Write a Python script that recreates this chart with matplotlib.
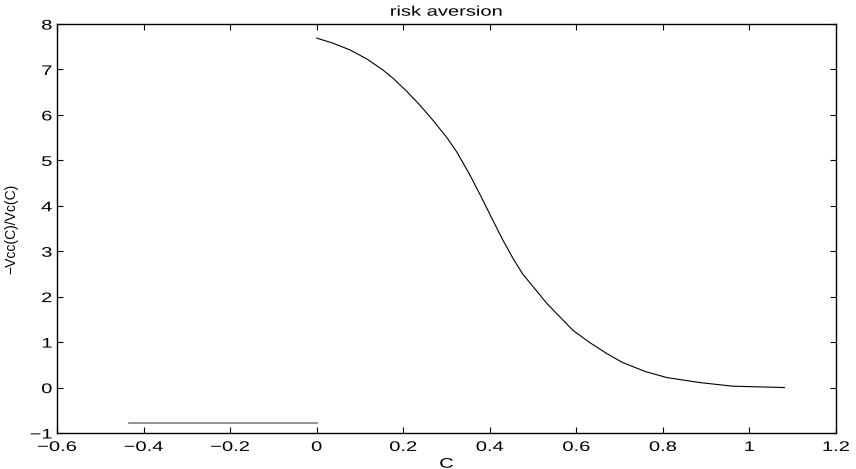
import numpy as np
import matplotlib
matplotlib.use('Agg')
import matplotlib.pyplot as plt
from matplotlib.patheffects import AbstractPathEffect
from matplotlib.transforms import Affine2D

plt.rcParams['font.family'] = ['Liberation Sans', 'DejaVu Sans']

# curve
c_vals = [0.0, 0.037, 0.077, 0.116, 0.153, 0.176, 0.208, 0.238, 0.268,
          0.301, 0.324, 0.354, 0.380, 0.405, 0.430, 0.455, 0.476, 0.532,
          0.592, 0.631, 0.670, 0.707, 0.760, 0.809, 0.885, 0.961, 1.081]
ra_vals = [7.69, 7.58, 7.43, 7.23, 6.99, 6.81, 6.52, 6.22, 5.89,
           5.50, 5.18, 4.68, 4.20, 3.72, 3.25, 2.82, 2.50, 1.85,
           1.26, 0.99, 0.75, 0.55, 0.35, 0.22, 0.11, 0.03, 0.0]

# flat segment on the negative side
c_neg = [-0.434, 0.0]
ra_neg = [-0.79, -0.79]

xticks = [-0.6, -0.4, -0.2, 0, 0.2, 0.4, 0.6, 0.8, 1, 1.2]
xticklabels = ['\u22120.6', '\u22120.4', '\u22120.2', '0', '0.2', '0.4', '0.6', '0.8', '1', '1.2']
yticks = [-1, 0, 1, 2, 3, 4, 5, 6, 7, 8]
yticklabels = ['\u22121', '0', '1', '2', '3', '4', '5', '6', '7', '8']


class WideText(AbstractPathEffect):
    # the reference glyphs are drawn wider than normal, stretch them sideways
    def __init__(self, sx=1.45, anchor='center'):
        super().__init__()
        self.sx = sx
        self.anchor = anchor

    def draw_path(self, renderer, gc, tpath, affine, rgbFace=None):
        ext = tpath.get_extents()
        if self.anchor == 'right':
            cx = ext.x1
        elif self.anchor == 'left':
            cx = ext.x0
        else:
            cx = 0.5 * (ext.x0 + ext.x1)
        t = Affine2D().translate(-cx, 0).scale(self.sx, 1).translate(cx, 0) + affine
        renderer.draw_path(gc, tpath, t, rgbFace)


fig = plt.figure(figsize=(8.56, 4.69), dpi=100)
ax = fig.add_axes([0.0666, 0.0768, 0.910, 0.872])

ax.plot(c_neg, ra_neg, color='0.5', lw=1.2)
ax.plot(c_vals, ra_vals, color='black', lw=0.8)

ax.set_xlim(-0.6, 1.2)
ax.set_ylim(-1, 8)
ax.set_xticks(xticks)
ax.set_xticklabels(xticklabels)
ax.set_yticks(yticks)
ax.set_yticklabels(yticklabels)
ax.tick_params(direction='in', top=True, right=True, length=4.5, width=0.8,
               labelsize=10)
ax.tick_params(axis='x', pad=5)
ax.tick_params(axis='y', pad=3.5)
for s in ax.spines.values():
    s.set_linewidth(1.0)

for lab in ax.get_xticklabels():
    lab.set_path_effects([WideText(1.45, 'center')])
for lab in ax.get_yticklabels():
    lab.set_path_effects([WideText(1.45, 'right')])

ax.set_title('risk aversion', fontsize=10, pad=6,
             path_effects=[WideText(1.45, 'center')])
ax.set_xlabel('C', fontsize=10, labelpad=2,
              path_effects=[WideText(1.45, 'center')])
ax.set_ylabel('\u2212Vcc(C)/Vc(C)', fontsize=10)
ax.yaxis.set_label_coords(-0.049, 0.5)

fig.savefig('out.png', dpi=100)
